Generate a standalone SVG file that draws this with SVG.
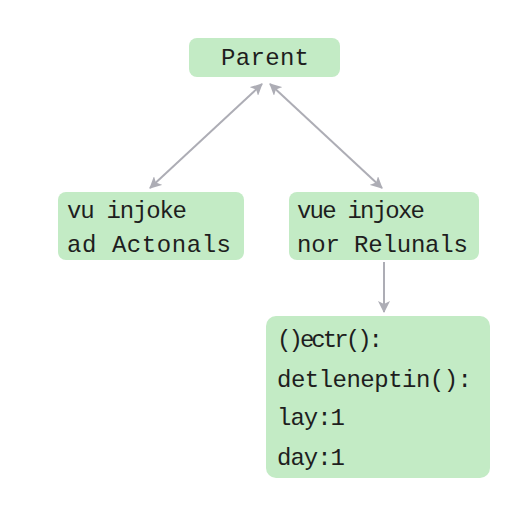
<svg xmlns="http://www.w3.org/2000/svg" width="512" height="512" viewBox="0 0 512 512">
<style>
.box{fill:#c3ebc5;}
.t{font-family:"Liberation Mono","DejaVu Sans Mono",monospace;font-size:24px;fill:#1e1e1e;}
.c{stroke:#adadb5;stroke-width:2;fill:none;}
</style>
<defs>
<marker id="ah" viewBox="0 0 12 12" refX="11" refY="6" markerWidth="12" markerHeight="12" orient="auto-start-reverse" markerUnits="userSpaceOnUse">
<path d="M0,0 L12,6 L0,12 L3,6 Z" fill="#adadb5"/>
</marker>
</defs>
<rect width="512" height="512" fill="#ffffff"/>
<g id="connectors">
<line class="c" x1="262" y1="84" x2="150" y2="188" marker-start="url(#ah)" marker-end="url(#ah)"/>
<line class="c" x1="270" y1="84" x2="382" y2="188" marker-start="url(#ah)" marker-end="url(#ah)"/>
<line class="c" x1="384" y1="262" x2="384" y2="312" marker-end="url(#ah)"/>
</g>
<g id="parent">
<rect class="box" x="189" y="38" width="151" height="39" rx="8"/>
<text class="t" x="221" y="65" textLength="88">Parent</text>
</g>
<g id="left">
<rect class="box" x="58" y="192" width="186" height="68" rx="8"/>
<text class="t" x="67" y="218" textLength="120">vu injoke</text>
<text class="t" x="67" y="252" textLength="164">ad Actonals</text>
</g>
<g id="right">
<rect class="box" x="289" y="192" width="190" height="68" rx="8"/>
<text class="t" x="297" y="218" textLength="128">vue injoxe</text>
<text class="t" x="297" y="252" textLength="171">nor Relunals</text>
</g>
<g id="bottom">
<rect class="box" x="266" y="316" width="224" height="162" rx="10"/>
<text class="t" x="277" y="347" textLength="106">()ectr():</text>
<text class="t" x="277" y="387" textLength="195">detleneptin():</text>
<text class="t" x="277" y="425" textLength="68">lay:1</text>
<text class="t" x="277" y="465" textLength="68">day:1</text>
</g>
</svg>
